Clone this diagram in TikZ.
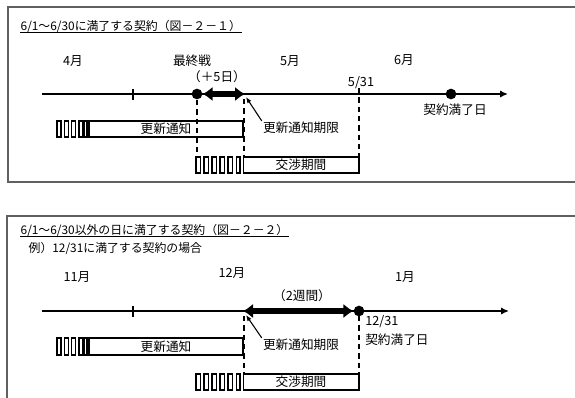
\documentclass[tikz,border=0pt]{standalone}
\usepackage{fontspec}
\setmainfont{Noto Sans CJK JP}
\usetikzlibrary{arrows.meta}

\tikzset{
  lbl/.style={inner sep=0.75pt, font=\fontsize{9.5pt}{11pt}\selectfont},
  ttl/.style={anchor=west, inner sep=0.3pt, font=\fontsize{8.9pt}{10pt}\selectfont},
  frame/.style={draw={rgb,255:red,96;green,96;blue,96}, line width=0.9pt},
  pbox/.style={line width=1.1pt},
  dot/.style={circle, fill, inner sep=0pt, minimum size=8pt},
  tline/.style={line width=1.5pt, -{Latex[length=6pt,width=5.5pt]}},
  span/.style={line width=4.5pt, {Latex[length=7.5pt,width=11pt]}-{Latex[length=7.5pt,width=11pt]}},
  pointer/.style={line width=0.8pt, -{Latex[length=4.5pt,width=3.5pt]}},
  cut/.style={line width=1.1pt, dash pattern=on 4pt off 3pt}
}

\begin{document}
\begin{tikzpicture}[x=0.75pt,y=0.75pt,yscale=-1,xscale=1]
\useasboundingbox (0,0) rectangle (575,397);

%%%%%%%% figure 2-1
%Shape: Rectangle
\draw [frame] (8,7) rectangle (600,182);

% Text Node
\draw (20,26) node [ttl] (ttl1) {6/1～6/30に満了する契約（図－２－１）};
\draw [line width=0.8pt] (ttl1.south west) -- (ttl1.south east);
% Text Node
\draw (73,61) node [lbl] (apr) {4月};
% Text Node
\draw (192,61) node [lbl] (fin) {最終戦};
% Text Node
\draw (217,77) node [lbl] (plus) {（＋5日）};
% Text Node
\draw (290,61) node [lbl] (may) {5月};
% Text Node
\draw (404,60) node [lbl] (jun) {6月};
% Text Node
\draw (361,83) node [lbl] (d531) {5/31};

%Straight Lines
\draw [tline] (42,94) -- (508,94);
\draw [pbox] (133,89) -- (133,100);

%Shape: Circle
\draw (197,94) node [dot] (last1) {};
\draw (451,94) node [dot] (exp1) {};
% Text Node
\draw (455,110) node [lbl] (explbl1) {契約満了日};

%Straight Lines
\coordinate (lim1) at (245,94);
\draw [span] (last1.east) -- (lim1);

% Text Node
\draw (301,128) node [lbl] (limlbl1) {更新通知期限};
\coordinate (limpt1) at (246,97);
\draw [pointer] (limlbl1.north west) -- (limpt1);

%Straight Lines
\draw [cut] (197,100) -- (197,157);
\draw [cut] (244,99) -- (244,157);
\draw [cut] (359,88) -- (359,157);

%Shape: Rectangle
\foreach \i in {0,...,3} \draw [pbox] ({57+7.3*\i},121) rectangle ++(4,16);
\draw [pbox] (84,121) rectangle (87,137);
\draw [pbox] (89,121) rectangle (243,137);
% Text Node
\draw (166,129) node [lbl] (renew1) {更新通知};

%Shape: Rectangle
\foreach \i in {0,...,4} \draw [pbox] ({196+8*\i},157) rectangle ++(4.5,16);
\draw [pbox] (236.5,157) rectangle (240,173);
\draw [pbox] (243.5,157) rectangle (359,173);
% Text Node
\draw (301,165) node [lbl] (nego1) {交渉期間};

%%%%%%%% figure 2-2
%Shape: Rectangle
\draw [frame] (7,216) rectangle (600,420);

% Text Node
\draw (20,230) node [ttl] (ttl2) {6/1～6/30以外の日に満了する契約（図－２－２）};
\draw [line width=0.8pt] (ttl2.south west) -- (ttl2.south east);
% Text Node
\draw (28,248) node [ttl] (ex2) {例）12/31に満了する契約の場合};
% Text Node
\draw (77,277) node [lbl] (nov) {11月};
% Text Node
\draw (232,273) node [lbl] (dec) {12月};
% Text Node
\draw (405,277) node [lbl] (jan) {1月};
% Text Node
\draw (302,296) node [lbl] (wk2) {（2週間）};

%Straight Lines
\draw [tline] (42,311) -- (509,311);
\draw [pbox] (133,306) -- (133,317);

%Shape: Circle
\draw (359,311) node [dot] (exp2) {};
\coordinate (lim2) at (243,311);
\draw [span] (lim2) -- (exp2.west);

% Text Node
\draw (364,322) node [lbl, anchor=west] (d1231) {12/31};
% Text Node
\draw (364,340) node [lbl, anchor=west] (explbl2) {契約満了日};
% Text Node
\draw (301,345) node [lbl] (limlbl2) {更新通知期限};
\coordinate (limpt2) at (246,315);
\draw [pointer] (limlbl2.north west) -- (limpt2);

%Straight Lines
\draw [cut] (244,316) -- (244,374);
\draw [cut] (359,316) -- (359,374);

%Shape: Rectangle
\foreach \i in {0,...,3} \draw [pbox] ({57+7.3*\i},338) rectangle ++(4,17);
\draw [pbox] (84,338) rectangle (87,355);
\draw [pbox] (89,338) rectangle (243,355);
% Text Node
\draw (166,346.5) node [lbl] (renew2) {更新通知};

%Shape: Rectangle
\foreach \i in {0,...,4} \draw [pbox] ({196+8*\i},374) rectangle ++(4.5,16);
\draw [pbox] (236.5,374) rectangle (240,390);
\draw [pbox] (243.5,374) rectangle (359,390);
% Text Node
\draw (301,382) node [lbl] (nego2) {交渉期間};

\end{tikzpicture}
\end{document}
